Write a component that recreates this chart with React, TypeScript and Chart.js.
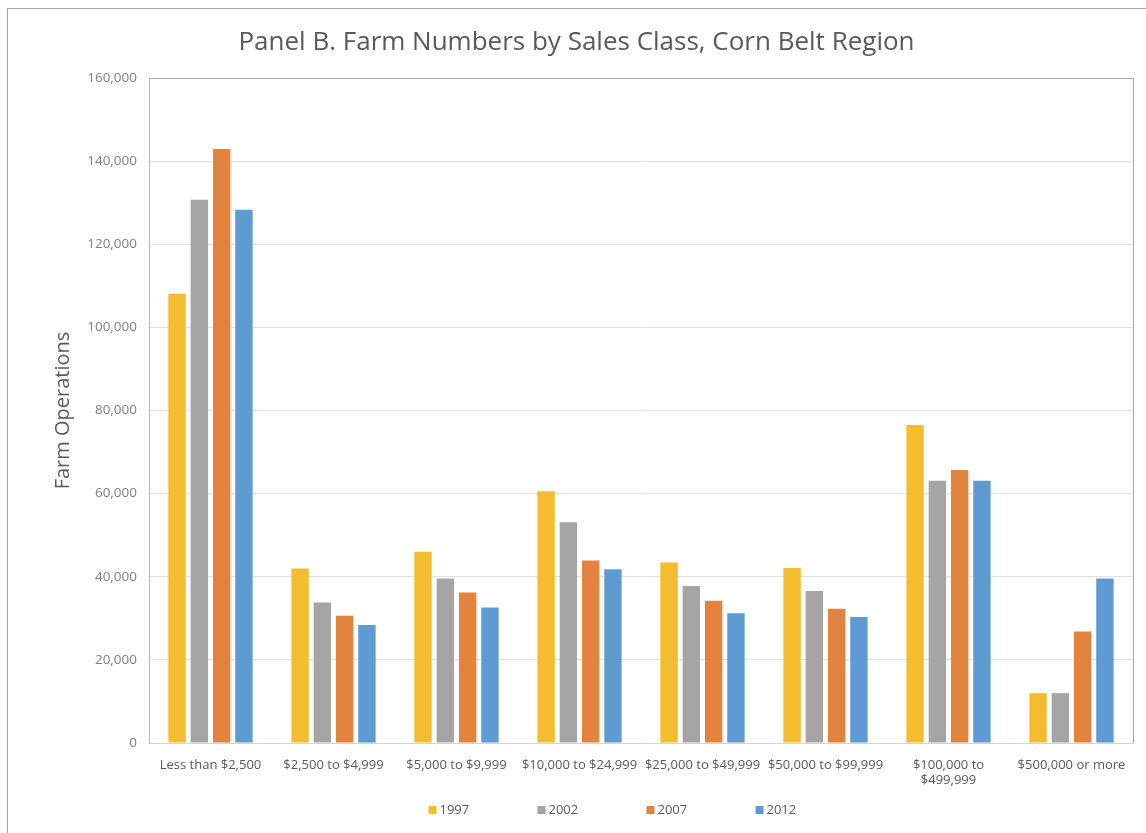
import React, { useEffect, useRef } from "react";
import { Chart, registerables } from "chart.js";

Chart.register(...registerables);

const categories: (string | string[])[] = [
  "Less than $2,500",
  "$2,500 to $4,999",
  "$5,000 to $9,999",
  "$10,000 to $24,999",
  "$25,000 to $49,999",
  "$50,000 to $99,999",
  ["$100,000 to", "$499,999"],
  "$500,000 or more",
];
const years = ["1997", "2002", "2007", "2012"];
const values1997 = [108100, 42000, 46000, 60600, 43400, 42100, 76500, 12000];
const values2002 = [130700, 33800, 39600, 53100, 37800, 36600, 63100, 12000];
const values2007 = [142900, 30600, 36200, 43900, 34200, 32300, 65700, 26800];
const values2012 = [128300, 28400, 32600, 41800, 31200, 30300, 63100, 39600];
const seriesColors = ["#F4BD2F", "#A5A5A5", "#E2833F", "#5E9BD3"];
const yMin = 0;
const yMax = 160000;
const yStep = 20000;

const titleText = "Panel B. Farm Numbers by Sales Class, Corn Belt Region";
const yTitle = "Farm Operations";
const FONT = "'Open Sans', 'Liberation Sans', sans-serif";

const frame = {
  id: "frame",
  beforeDraw(chart: any) {
    const ctx = chart.ctx;
    ctx.save();
    ctx.strokeStyle = "#a6a6a6";
    ctx.lineWidth = 1;
    ctx.strokeRect(7.5, 8.5, chart.width + 20, chart.height + 20);
    ctx.restore();
  },
  afterDraw(chart: any) {
    const { ctx, chartArea } = chart;
    ctx.save();
    ctx.strokeStyle = "#a6a6a6";
    ctx.lineWidth = 1;
    ctx.beginPath();
    ctx.moveTo(chartArea.left, Math.round(chartArea.top) + 0.5);
    ctx.lineTo(Math.round(chartArea.right) + 0.5, Math.round(chartArea.top) + 0.5);
    ctx.lineTo(Math.round(chartArea.right) + 0.5, chartArea.bottom);
    ctx.stroke();

    // legend
    const ds = chart.data.datasets;
    const spacing = 109;
    const cx = 614;
    const y = 810;
    const startX = cx - ((ds.length - 1) * spacing) / 2 - 22;
    ctx.font = "13px " + FONT;
    ctx.textBaseline = "middle";
    ctx.textAlign = "left";
    ds.forEach((d: any, i: number) => {
      const x = startX + i * spacing;
      ctx.fillStyle = d.backgroundColor;
      ctx.fillRect(x, y - 4, 8, 8);
      ctx.fillStyle = "#595959";
      ctx.fillText(d.label, x + 11, y);
    });
    ctx.restore();
  },
};

export default function App() {
  const ref = useRef<HTMLCanvasElement | null>(null);
  useEffect(() => {
    if (!ref.current) return;
    const series = [values1997, values2002, values2007, values2012];
    const chart = new Chart(ref.current, {
      type: "bar",
      data: {
        labels: categories,
        datasets: years.map((y, i) => ({
          label: y,
          data: series[i],
          backgroundColor: seriesColors[i],
          borderWidth: 0,
          categoryPercentage: 0.725,
          barPercentage: 0.78,
        })),
      },
      options: {
        responsive: false,
        animation: false,
        layout: { padding: { left: 20, right: 13, top: 0, bottom: 40 } },
        plugins: {
          legend: { display: false },
          tooltip: { enabled: false },
          title: {
            display: true,
            text: titleText,
            color: "#595959",
            font: { family: FONT, size: 26, weight: "normal" },
            padding: { top: 27, bottom: 19.8 },
          },
        },
        scales: {
          x: {
            grid: { display: false, drawTicks: false },
            border: { display: true, color: "#d4d4d4" },
            ticks: {
              color: "#595959",
              font: { family: FONT, size: 13 },
              padding: 14,
              maxRotation: 0,
              autoSkip: false,
            },
            afterFit(scale: any) {
              scale.height = 50;
            },
          },
          y: {
            min: yMin,
            max: yMax,
            grid: { color: "#e2e2e2", drawTicks: false },
            border: { display: true, color: "#b5b5b5" },
            ticks: {
              stepSize: yStep,
              color: "#7f7f7f",
              font: { family: FONT, size: 13.5 },
              padding: 12,
              callback: (v: any) => Number(v).toLocaleString("en-US"),
            },
            title: {
              display: true,
              text: yTitle,
              color: "#595959",
              font: { family: FONT, size: 20, weight: "normal" },
              padding: { top: 31, bottom: 0 },
            },
            afterFit(scale: any) {
              scale.width = 129;
            },
          },
        },
      },
      plugins: [frame],
    });
    return () => chart.destroy();
  }, []);
  return (
    <div style={{ position: "absolute", left: 0, top: 0, width: 1146, height: 833, background: "#fff" }}>
      <canvas ref={ref} width={1146} height={833} style={{ display: "block" }} />
    </div>
  );
}
